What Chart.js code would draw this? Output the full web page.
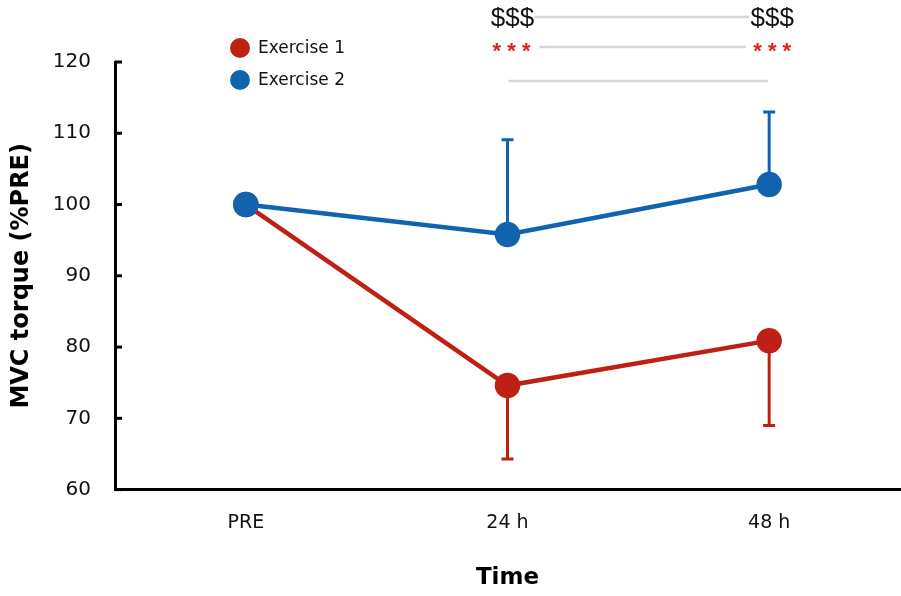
<!DOCTYPE html>
<html>
<head>
<meta charset="utf-8">
<script src="https://cdn.jsdelivr.net/npm/chart.js@4.4.1/dist/chart.umd.min.js"></script>
<style>
  html, body { margin: 0; padding: 0; background: #fff; overflow: hidden; }
  #wrap { width: 901px; height: 596px; position: relative; }
  canvas { display: block; }
</style>
</head>
<body>
<div id="wrap"><canvas id="chart"></canvas></div>
<script>
const timePoints = ['PRE', '24 h', '48 h'];
const exercise1 = [100, 74.6, 80.9];
const exercise2 = [100, 95.8, 102.8];
// one-sided error bars: exercise 1 drawn down, exercise 2 drawn up
const exercise1Err = [0, 10.3, 11.9];
const exercise2Err = [0, 13.3, 10.2];
const yTicks = [60, 70, 80, 90, 100, 110, 120];

const red = 'rgb(191, 32, 22)';
const blue = 'rgb(17, 99, 176)';
const font = "'DejaVu Sans', sans-serif";

// error bars, behind the lines and dots
const errorBars = {
  id: 'errorBars',
  beforeDatasetsDraw(chart) {
    const { ctx, scales: { x, y } } = chart;
    const sets = [
      { vals: exercise1, err: exercise1Err, dir: -1, color: red },
      { vals: exercise2, err: exercise2Err, dir: 1, color: blue },
    ];
    ctx.save();
    ctx.lineWidth = 3;
    sets.forEach((s) => {
      ctx.strokeStyle = s.color;
      s.vals.forEach((v, i) => {
        if (!s.err[i]) return;
        const px = x.getPixelForValue(i);
        const y0 = y.getPixelForValue(v);
        const y1 = y.getPixelForValue(v + s.dir * s.err[i]);
        ctx.beginPath();
        ctx.moveTo(px, y0);
        ctx.lineTo(px, y1);
        ctx.moveTo(px - 6, y1);
        ctx.lineTo(px + 6, y1);
        ctx.stroke();
      });
    });
    ctx.restore();
  },
};

// inward y ticks, legend and significance marks
const extras = {
  id: 'extras',
  afterDraw(chart) {
    const { ctx, chartArea, scales: { x, y } } = chart;
    ctx.save();

    ctx.strokeStyle = '#000';
    ctx.lineWidth = 3;
    yTicks.forEach((t) => {
      const py = y.getPixelForValue(t);
      ctx.beginPath();
      ctx.moveTo(chartArea.left, py);
      ctx.lineTo(chartArea.left + 7, py);
      ctx.stroke();
    });

    // legend
    const lx = chartArea.left + 125;
    [[chart.data.datasets[0], chartArea.top - 14], [chart.data.datasets[1], chartArea.top + 18]].forEach(([ds, ly]) => {
      ctx.fillStyle = ds.borderColor;
      ctx.beginPath();
      ctx.arc(lx, ly, 10, 0, Math.PI * 2);
      ctx.fill();
      ctx.fillStyle = '#111';
      ctx.font = '17px ' + font;
      ctx.textBaseline = 'middle';
      ctx.textAlign = 'left';
      ctx.fillText(ds.label, lx + 18, ly + 1);
    });

    // significance annotations between 24 h and 48 h
    const x24 = x.getPixelForValue(1);
    const x48 = x.getPixelForValue(2);
    ctx.strokeStyle = '#d6d6d6';
    ctx.lineWidth = 2.5;
    const line = (a, b, ly) => {
      ctx.beginPath();
      ctx.moveTo(a, ly);
      ctx.lineTo(b, ly);
      ctx.stroke();
    };
    line(x24 + 27, x48 - 20, chartArea.top - 45);
    line(x24 + 32, x48 - 23, chartArea.top - 15);
    line(x24 + 1, x48 - 1, chartArea.top + 19);

    ctx.textAlign = 'center';
    ctx.textBaseline = 'middle';
    ctx.fillStyle = '#111';
    ctx.font = "26px 'Liberation Sans', sans-serif";
    ctx.fillText('$$$', x24 + 5, chartArea.top - 43);
    ctx.fillText('$$$', x48 + 3, chartArea.top - 43);
    ctx.fillStyle = 'rgb(220, 35, 25)';
    ctx.font = "bold 22px 'Liberation Sans', sans-serif";
    ctx.fillText('* * *', x24 + 4, chartArea.top - 10);
    ctx.fillText('* * *', x48 + 3, chartArea.top - 10);

    ctx.restore();
  },
};

new Chart(document.getElementById('chart'), {
  type: 'line',
  data: {
    labels: timePoints,
    datasets: [
      {
        label: 'Exercise 1',
        data: exercise1,
        borderColor: red,
        backgroundColor: red,
        borderWidth: 4.5,
        pointRadius: 10.5,
        pointHoverRadius: 10.5,
        order: 1,
      },
      {
        label: 'Exercise 2',
        data: exercise2,
        borderColor: blue,
        backgroundColor: blue,
        borderWidth: 4.5,
        pointRadius: 10.5,
        pointHoverRadius: 10.5,
        order: 0,
      },
    ],
  },
  options: {
    responsive: true,
    maintainAspectRatio: false,
    animation: false,
    layout: { autoPadding: false, padding: { top: 62, right: 1, left: 0, bottom: 4 } },
    plugins: {
      legend: { display: false },
      tooltip: { enabled: false },
    },
    scales: {
      x: {
        offset: true,
        afterFit(scale) { scale.paddingRight = 0; scale.paddingLeft = 0; },
        grid: { color: 'transparent', drawTicks: false },
        border: { display: true, color: '#000', width: 3 },
        ticks: { color: '#111', font: { family: font, size: 19 }, padding: 22 },
        title: {
          display: true,
          text: 'Time',
          color: '#000',
          font: { family: font, size: 23, weight: 'bold' },
          padding: { top: 8, bottom: 0 },
        },
      },
      y: {
        min: 60,
        max: 120,
        afterFit(scale) { scale.width = 115; },
        grid: { color: 'transparent', drawTicks: false },
        border: { display: true, color: '#000', width: 3 },
        ticks: { stepSize: 10, color: '#111', font: { family: font, size: 20 }, padding: 24 },
        title: {
          display: true,
          text: 'MVC torque (%PRE)',
          color: '#000',
          font: { family: font, size: 24, weight: 'bold' },
          padding: { top: 7, bottom: 0 },
        },
      },
    },
  },
  plugins: [errorBars, extras],
});
</script>
</body>
</html>
